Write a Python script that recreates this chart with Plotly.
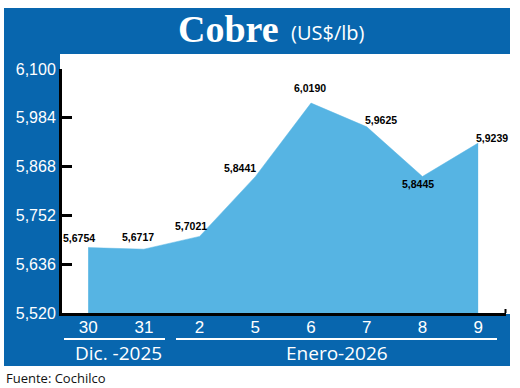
import plotly.graph_objects as go

# ---- data ----
dates = ["30", "31", "2", "5", "6", "7", "8", "9"]
prices = [5.6754, 5.6717, 5.7021, 5.8441, 6.0190, 5.9625, 5.8445, 5.9239]
y_ticks = [5.520, 5.636, 5.752, 5.868, 5.984, 6.100]
y_tick_labels = ["5,520", "5,636", "5,752", "5,868", "5,984", "6,100"]
groups = ["Dic. -2025", "Enero-2026"]
title = "Cobre"
unit = "(US$/lb)"
source = "Fuente: Cochilco"

# ---- style ----
W, H = 520, 388
L, R, T, B = 62, 14, 69, 75
PW, PH = W - L - R, H - T - B
BLUE = "#0866AE"
FILL = "#56B4E3"
ARIAL = "Liberation Sans, Arial, sans-serif"
SANS = "Open Sans, Noto Sans, sans-serif"


def px(x):
    return (x - L) / PW


def py(y):
    return (H - B - y) / PH


label_offsets = [(-9, 10), (-6, 12), (-9, 10), (-15, 9), (-1, 15), (14, 7), (-4, -8), (14, 5)]

xi = list(range(len(dates)))

fig = go.Figure()
fig.add_trace(go.Scatter(
    x=xi, y=prices, mode="lines", fill="tozeroy",
    fillcolor=FILL, line=dict(color=FILL, width=0.5), hoverinfo="skip",
))

annotations = []
for i, v in enumerate(prices):
    dx, dy = label_offsets[i]
    annotations.append(dict(
        x=i, y=v, xref="x", yref="y", text=f"{v:.4f}".replace(".", ","),
        showarrow=False, xshift=dx, yshift=dy,
        font=dict(family=ARIAL, size=10.5, color="black", weight="bold"),
    ))

# title
annotations.append(dict(x=px(228), y=py(29), xref="paper", yref="paper", text=title,
                        showarrow=False, xanchor="center", yanchor="middle",
                        font=dict(family="Liberation Serif, serif", size=38, color="white", weight="bold")))
annotations.append(dict(x=px(328), y=py(32), xref="paper", yref="paper", text=unit,
                        showarrow=False, xanchor="center", yanchor="middle",
                        font=dict(family=SANS, size=20, color="white")))
# group labels
for g, cx in zip(groups, [118, 337]):
    annotations.append(dict(x=px(cx), y=py(353), xref="paper", yref="paper", text=g,
                            showarrow=False, xanchor="center", yanchor="middle",
                            font=dict(family=SANS, size=19, color="white")))
annotations.append(dict(x=px(4), y=py(378), xref="paper", yref="paper", text=source,
                        showarrow=False, xanchor="left", yanchor="middle",
                        font=dict(family=SANS, size=13, color="#111111")))

shapes = [
    dict(type="rect", xref="paper", yref="paper", x0=px(4), x1=px(510), y0=py(8), y1=py(54),
         fillcolor=BLUE, line=dict(width=0), layer="below"),
    dict(type="rect", xref="paper", yref="paper", x0=px(4), x1=px(60), y0=py(8), y1=py(366),
         fillcolor=BLUE, line=dict(width=0), layer="below"),
    dict(type="rect", xref="paper", yref="paper", x0=px(4), x1=px(510), y0=py(314), y1=py(366),
         fillcolor=BLUE, line=dict(width=0), layer="below"),
    dict(type="line", xref="paper", yref="paper", x0=px(64), x1=px(165), y0=py(339), y1=py(339),
         line=dict(color="white", width=2)),
    dict(type="line", xref="paper", yref="paper", x0=px(176), x1=px(497), y0=py(339), y1=py(339),
         line=dict(color="white", width=2)),
    dict(type="line", xref="paper", yref="paper", x0=px(505.5), x1=px(505.5), y0=py(309), y1=py(313),
         line=dict(color="black", width=2)),
]

fig.update_layout(
    width=W, height=H,
    margin=dict(l=L, r=R, t=T, b=B),
    paper_bgcolor="white", plot_bgcolor="white",
    showlegend=False,
    annotations=annotations, shapes=shapes,
    xaxis=dict(range=[-0.47, 7.5], tickvals=xi, ticktext=dates, showgrid=False, zeroline=False,
               showline=True, linecolor="black", linewidth=3, ticks="", ticklabelstandoff=-3,
               tickfont=dict(family=ARIAL, size=17, color="white"), fixedrange=True),
    yaxis=dict(range=[5.52, 6.10], tickvals=y_ticks, ticktext=y_tick_labels, showgrid=False,
               zeroline=False, showline=True, linecolor="black", linewidth=3,
               ticks="inside", ticklen=10, tickwidth=3, tickcolor="black",
               tickfont=dict(family=ARIAL, size=16, color="white"), fixedrange=True),
)

fig.write_html("out.html", config={"displayModeBar": False},
               post_script="document.body.style.margin='0px';")
